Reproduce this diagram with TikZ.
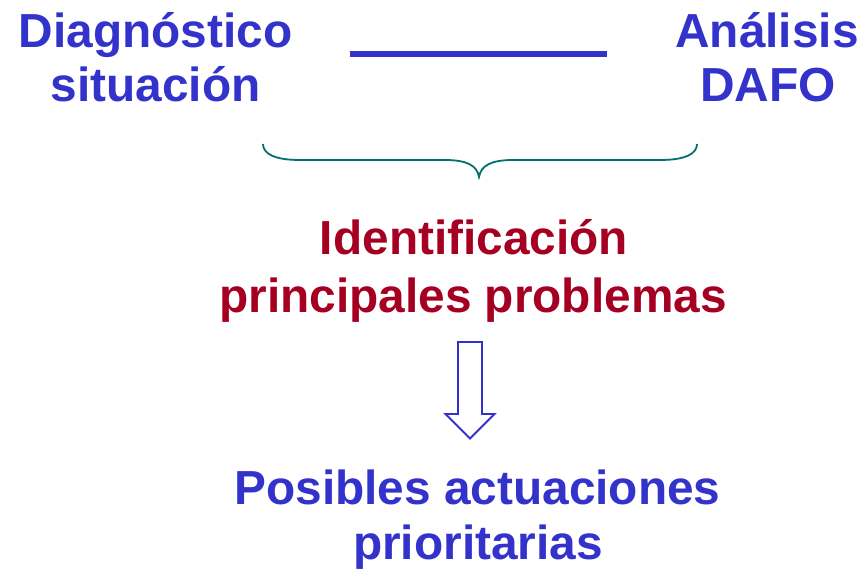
\documentclass[tikz,border=0pt]{standalone}
\usepackage{fontspec}
\setmainfont{Liberation Sans}
\definecolor{dblue}{RGB}{51,51,204}
\definecolor{dred}{RGB}{165,0,33}
\definecolor{dteal}{RGB}{0,112,112}
\begin{document}
\begin{tikzpicture}[x=1pt,y=-1pt,
  txt/.style={inner sep=0pt,anchor=base,font=\fontsize{47.8}{50}\selectfont\bfseries},
  bluetxt/.style={txt,text=dblue},
  redtxt/.style={txt,text=dred}]
\useasboundingbox (0,0) rectangle (867,570);
\node[bluetxt] (d1) at (155.5,47) {Diagnóstico};
\node[bluetxt] (d2) at (155.5,101) {situación};
\node[bluetxt] (a1) at (767,47) {Análisis};
\node[bluetxt] (a2) at (768,101) {DAFO};
\draw[dblue,line width=6pt] (350,54) -- (607,54);
\draw[dteal,line width=1.8pt]
  (263,144) .. controls (263,154) and (275,160) .. (300,160) -- (445,160)
  .. controls (466,160) and (477,165) .. (479,177)
  .. controls (481,165) and (492,160) .. (513,160) -- (660,160)
  .. controls (685,160) and (697,154) .. (697,144);
\node[redtxt] (i1) at (474,254) {Identificación};
\node[redtxt] (i2) at (473,312) {principales problemas};
\draw[dblue,line width=1.8pt,fill=white,line join=miter]
  (458,342) -- (482,342) -- (482,414) -- (494.5,414) -- (470,438.5) -- (445.5,414) -- (458,414) -- cycle;
\node[bluetxt] (p1) at (477.5,504) {Posibles actuaciones};
\node[bluetxt] (p2) at (478,559) {prioritarias};
\end{tikzpicture}
\end{document}
